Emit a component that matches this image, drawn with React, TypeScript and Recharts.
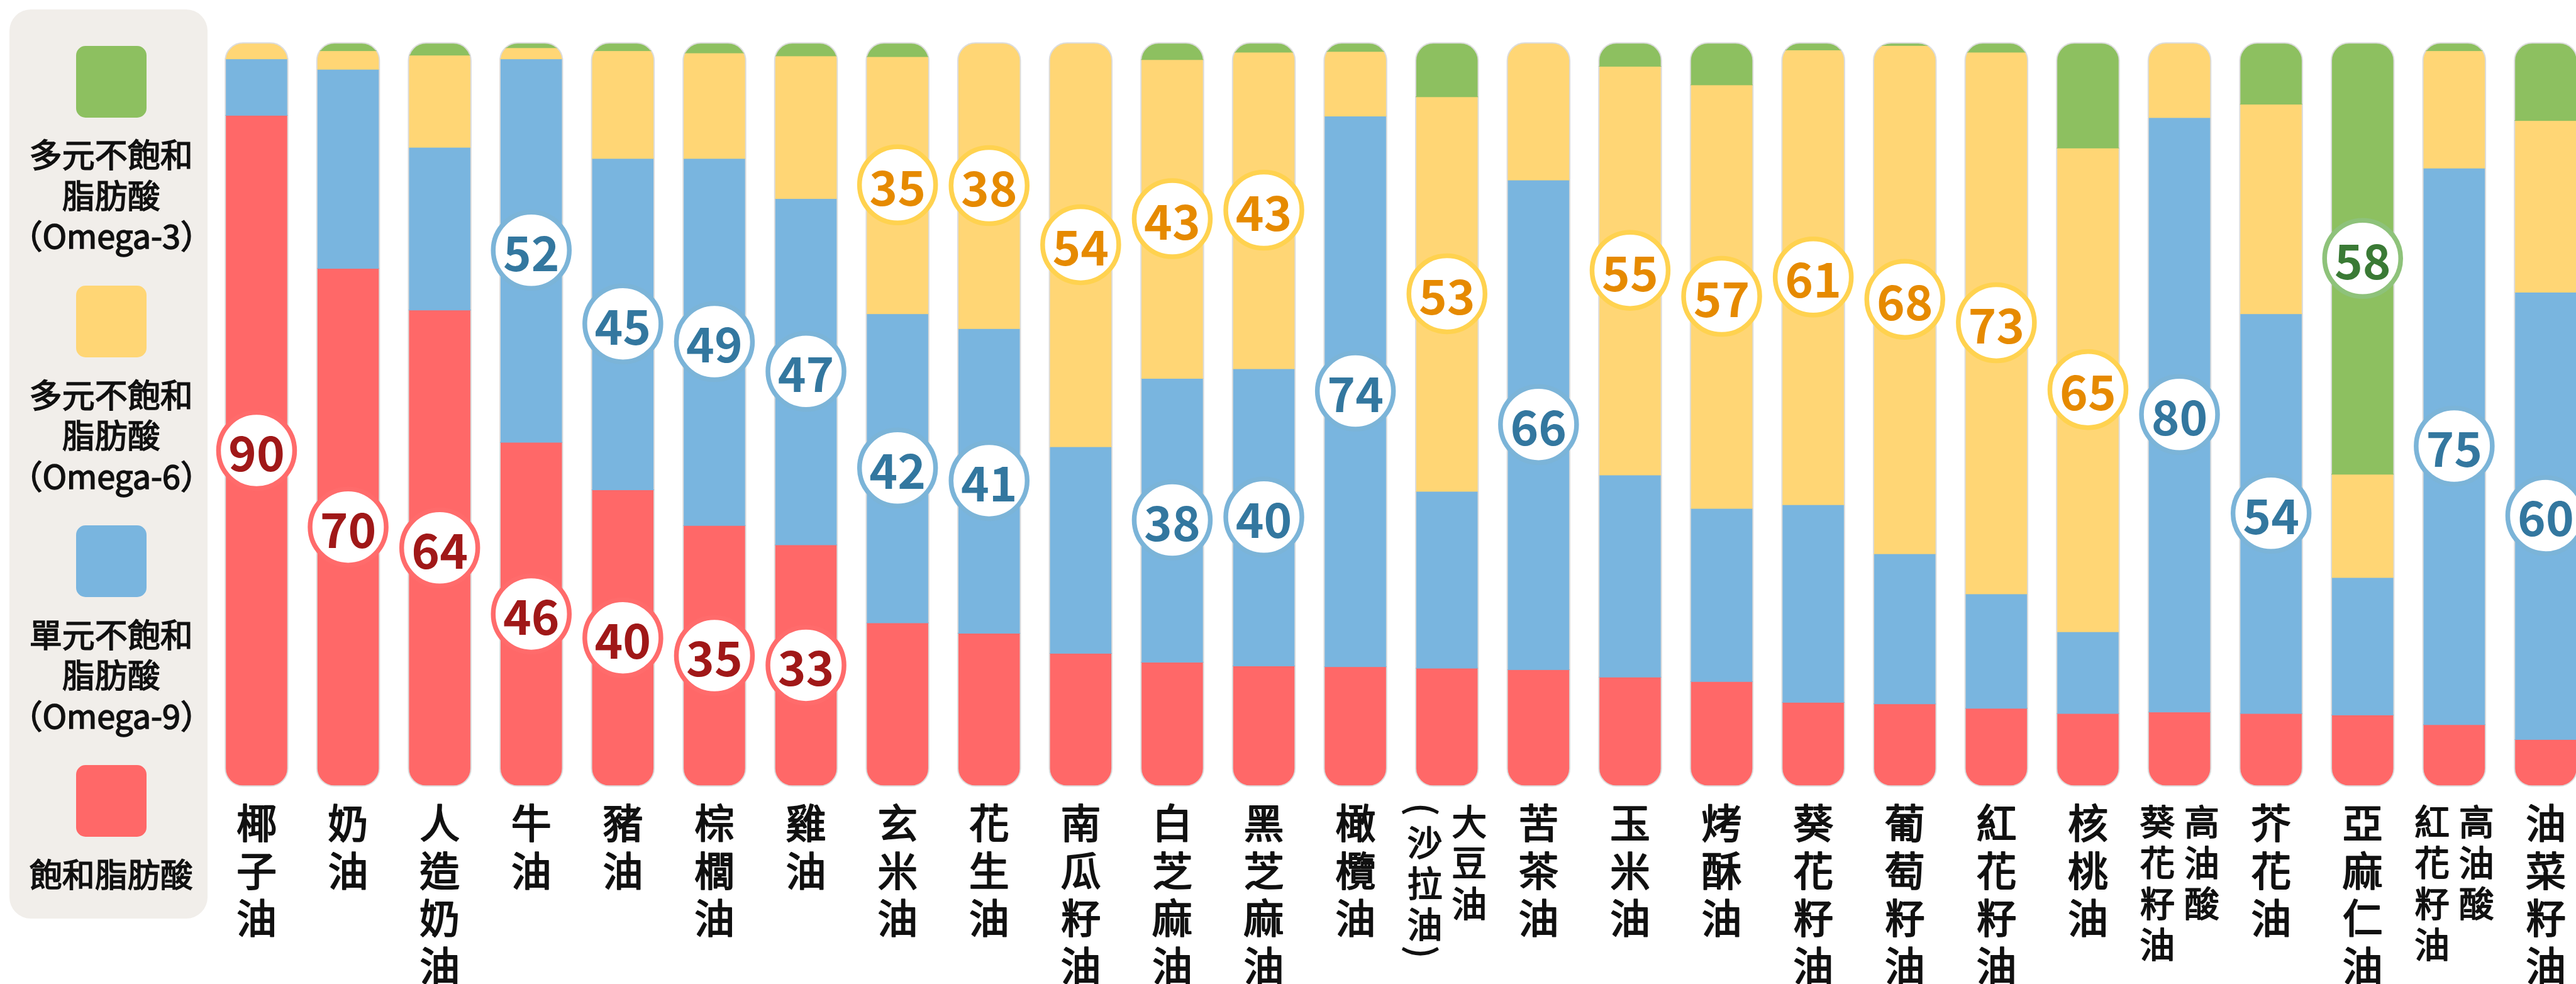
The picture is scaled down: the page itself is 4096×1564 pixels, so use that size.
import React from "react";
import { BarChart, Bar, XAxis, YAxis, LabelList } from "recharts";

// "\n" splits a label into vertical columns, read right to left
const categories = [
  "椰子油", "奶油", "人造奶油", "牛油", "豬油", "棕櫚油", "雞油", "玄米油", "花生油", "南瓜籽油",
  "白芝麻油", "黑芝麻油", "橄欖油", "大豆油\n（沙拉油）", "苦茶油", "玉米油", "烤酥油", "葵花籽油",
  "葡萄籽油", "紅花籽油", "核桃油", "高油酸\n葵花籽油", "芥花油", "亞麻仁油", "高油酸\n紅花籽油", "油菜籽油",
];

// percentages, bottom to top of each bar
const saturated = [90.3, 69.7, 64.1, 46.3, 39.9, 35.1, 32.5, 22.0, 20.6, 17.9, 16.7, 16.2, 16.1, 15.9, 15.7, 14.7, 14.1, 11.3, 11.1, 10.5, 9.8, 10.0, 9.8, 9.6, 8.3, 6.3];
const omega9 = [7.6, 26.8, 21.9, 51.6, 44.6, 49.4, 46.6, 41.6, 41.0, 27.8, 38.2, 40.0, 74.1, 23.8, 65.9, 27.2, 23.3, 26.6, 20.2, 15.4, 11.0, 80.0, 53.8, 18.5, 74.9, 60.2];
const omega6 = [2.1, 2.5, 12.4, 1.5, 14.5, 14.2, 19.2, 34.6, 38.4, 54.3, 42.9, 42.6, 8.7, 53.1, 18.4, 55.0, 57.0, 61.2, 68.4, 72.9, 65.1, 10.0, 28.2, 13.9, 15.8, 23.1];
const omega3 = [0, 1.0, 1.6, 0.6, 1.0, 1.3, 1.7, 1.8, 0, 0, 2.2, 1.2, 1.1, 7.2, 0, 3.1, 5.6, 0.9, 0.3, 1.2, 14.1, 0, 8.2, 58.0, 1.0, 10.4];

const series = [
  { key: "sat", values: saturated, fill: "#ff6868", ring: "#ff6b6b", text: "#a01818", legend: ["飽和脂肪酸"] },
  { key: "o9", values: omega9, fill: "#79b5df", ring: "#7bb4d8", text: "#33779f", legend: ["單元不飽和", "脂肪酸", "（Omega-9）"] },
  { key: "o6", values: omega6, fill: "#ffd675", ring: "#ffd24f", text: "#e68a00", legend: ["多元不飽和", "脂肪酸", "（Omega-6）"] },
  { key: "o3", values: omega3, fill: "#8dc060", ring: "#8ec27a", text: "#3a7a35", legend: ["多元不飽和", "脂肪酸", "（Omega-3）"] },
];

const data = categories.map((name, i) => {
  const row: Record<string, string | number> = { name };
  series.forEach((s) => (row[s.key] = s.values[i]));
  return row;
});

const FONT = '"Noto Sans CJK TC", "Noto Sans", sans-serif';
const PLOT_TOP = 68.3;
const PLOT_BOTTOM = 1249.3;
const RADIUS = 28;

function makeShape(key: string) {
  return (props: any) => {
    const { x, y, width, height, fill, index } = props;
    if (!height || height <= 0) return null;
    const bg = props.background || { y: PLOT_TOP, height: PLOT_BOTTOM - PLOT_TOP };
    const top = bg.y;
    const bottom = bg.y + bg.height;
    const id = `${key}-${index}`;
    const bandTop = y <= top + 0.5 ? y - 6 : y;
    const bandBottom = y + height >= bottom - 0.5 ? y + height + 6 : y + height;
    return (
      <g>
        <defs>
          <clipPath id={`cap-${id}`}>
            <rect x={x} y={top} width={width} height={bottom - top} rx={RADIUS} ry={RADIUS} />
          </clipPath>
          <clipPath id={`band-${id}`}>
            <rect x={x - 6} y={bandTop} width={width + 12} height={bandBottom - bandTop} />
          </clipPath>
        </defs>
        <rect x={x} y={y} width={width} height={height + 1} fill={fill} clipPath={`url(#cap-${id})`} />
        <rect
          x={x}
          y={top}
          width={width}
          height={bottom - top}
          rx={RADIUS}
          ry={RADIUS}
          fill="none"
          stroke="#dcdcdc"
          strokeWidth={2}
          clipPath={`url(#band-${id})`}
        />
      </g>
    );
  };
}

function makeLabel(ring: string, color: string) {
  return (props: any) => {
    const vb = props.viewBox || {};
    const x = props.x ?? vb.x;
    const y = props.y ?? vb.y;
    const w = props.width ?? vb.width;
    const h = props.height ?? vb.height;
    const v = Number(props.value);
    if (!(v >= 30)) return null; // only the big shares get a badge
    const cx = x + w / 2;
    const cy = y + h / 2;
    return (
      <g>
        <circle cx={cx} cy={cy} r={60.5} fill="#fff" stroke={ring} strokeWidth={7.5} />
        <text
          x={cx}
          y={cy}
          textAnchor="middle"
          dominantBaseline="central"
          fontSize={76}
          fontWeight={700}
          fontFamily={FONT}
          fill={color}
        >
          {Math.round(v)}
        </text>
      </g>
    );
  };
}

const CategoryTick = (props: any) => {
  const { x, y, payload } = props;
  const cols = String(payload.value).split("\n");
  const double = cols.length > 1;
  const fontSize = double ? 56 : 64;
  const pitch = double ? 65 : 75.5;
  const firstCenter = y + (double ? 53 : 55);
  const textProps = {
    textAnchor: "middle" as const,
    fontSize,
    fontWeight: 400,
    fontFamily: FONT,
    fill: "#111",
    stroke: "#111",
    strokeWidth: double ? 1.8 : 2.1,
    strokeLinejoin: "round" as const,
  };
  const out: React.ReactElement[] = [];
  cols.forEach((col, ci) => {
    const cx = double ? x + 35.4 - ci * 70.8 : x;
    let cursor = firstCenter - pitch / 2;
    const chars: { ch: string; cy: number }[] = [];
    Array.from(col).forEach((ch, k) => {
      const paren = ch === "（" || ch === "）";
      const hgt = paren ? pitch / 2 : pitch;
      const cy = cursor + hgt / 2;
      cursor += hgt;
      if (paren) {
        out.push(
          <text
            key={`p-${ci}-${k}`}
            x={cx}
            y={cy}
            dominantBaseline="central"
            transform={`rotate(90 ${cx} ${cy})`}
            {...textProps}
          >
            {ch === "（" ? "(" : ")"}
          </text>
        );
      } else {
        chars.push({ ch, cy });
      }
    });
    out.push(
      <text key={`c-${ci}`} x={cx} dominantBaseline="central" {...textProps}>
        {chars.map((c, k) => (
          <tspan key={k} x={cx} y={c.cy} dominantBaseline="central">
            {c.ch}
          </tspan>
        ))}
      </text>
    );
  });
  return <g>{out}</g>;
};

function LegendBox() {
  const swatchTops = [72.8, 454.4, 835.4, 1216.1];
  const items = [...series].reverse();
  return (
    <div
      style={{
        position: "absolute",
        left: 15.4,
        top: 14.9,
        width: 314.8,
        height: 1445,
        borderRadius: 34,
        background: "#f1eeea",
      }}
    >
      {items.map((s, i) => (
        <React.Fragment key={s.key}>
          <div
            style={{
              position: "absolute",
              left: 120.8 - 15.4,
              top: swatchTops[i] - 14.9,
              width: 112.5,
              height: 113.8,
              borderRadius: 15,
              background: s.fill,
            }}
          />
          <div
            style={{
              position: "absolute",
              left: 0,
              width: 314.8 + 8,
              top: swatchTops[i] + 113.8 + 58 - 32.25 - 14.9,
              textAlign: "center",
              fontFamily: FONT,
              fontSize: 52,
              fontWeight: 400,
              lineHeight: "64.5px",
              color: "#111",
              WebkitTextStroke: "1.6px #111",
              whiteSpace: "nowrap",
            }}
          >
            {s.legend.map((line) => (
              <div key={line}>{line}</div>
            ))}
          </div>
        </React.Fragment>
      ))}
    </div>
  );
}

export default function App() {
  return (
    <div style={{ position: "relative", width: 4096, height: 1564, overflow: "hidden", background: "#fff" }}>
      <style>{"body{margin:0;overflow:hidden}"}</style>
      <LegendBox />
      <div style={{ position: "absolute", left: 0, top: 0 }}>
        <BarChart
          width={4130}
          height={1564}
          data={data}
          margin={{ top: PLOT_TOP, right: 9.2, bottom: 14.7, left: 335.2 }}
        >
          <XAxis
            dataKey="name"
            interval={0}
            axisLine={false}
            tickLine={false}
            tickSize={0}
            tickMargin={0}
            height={300}
            tick={<CategoryTick />}
          />
          <YAxis hide domain={[0, 100]} />
          {series.map((s) => (
            <Bar
              key={s.key}
              dataKey={s.key}
              stackId="fat"
              fill={s.fill}
              barSize={99.5}
              shape={makeShape(s.key)}
              isAnimationActive={false}
            >
              <LabelList dataKey={s.key} content={makeLabel(s.ring, s.text)} />
            </Bar>
          ))}
        </BarChart>
      </div>
    </div>
  );
}
